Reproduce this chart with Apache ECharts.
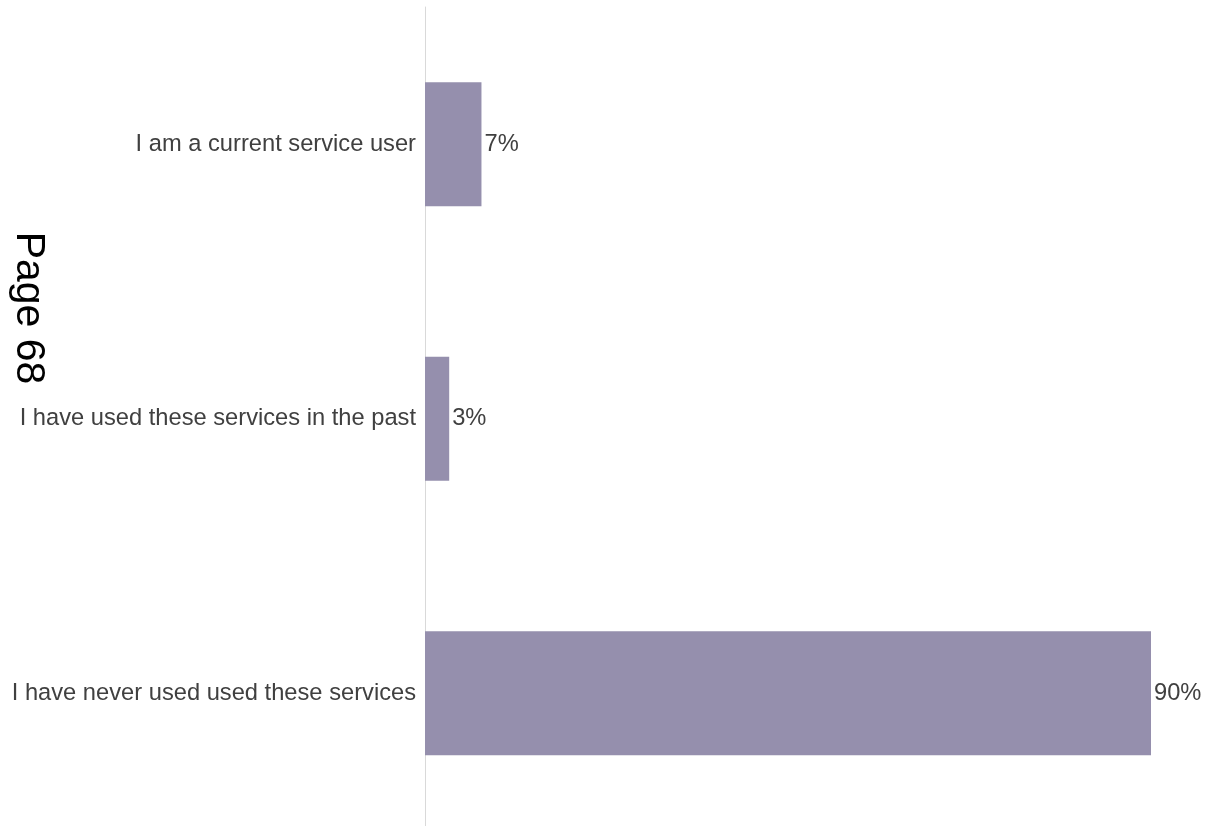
<!DOCTYPE html>
<html>
<head>
<meta charset="utf-8">
<title>Service use</title>
<script src="https://cdn.jsdelivr.net/npm/echarts@6/dist/echarts.min.js"></script>
<style>
  html, body { margin: 0; padding: 0; background: #ffffff; }
  #chart { width: 1205px; height: 826px; }
</style>
</head>
<body>
<div id="chart"></div>
<script>
// Survey answers, listed top to bottom
const categories = [
  'I am a current service user',
  'I have used these services in the past',
  'I have never used used these services'
];
// Share of respondents, in percent
const shares = [7, 3, 90];
const pageLabel = 'Page 68';

const chart = echarts.init(document.getElementById('chart'), null, { renderer: 'canvas' });

chart.setOption({
  backgroundColor: '#ffffff',
  animation: false,
  textStyle: { fontFamily: 'Liberation Sans, Arial, sans-serif' },
  grid: {
    left: 425, right: 54, top: 7, height: 823.5,
    containLabel: false,
    outerBoundsMode: 'none'
  },
  xAxis: {
    type: 'value',
    min: 0,
    max: 90,
    show: false,
    splitLine: { show: false }
  },
  yAxis: {
    type: 'category',
    data: categories,
    inverse: true,
    axisLine: { show: true, lineStyle: { color: '#d9d9d9', width: 1 } },
    axisTick: { show: false },
    axisLabel: {
      color: '#404040',
      fontSize: 23.7,
      margin: 9,
      fontFamily: 'Liberation Sans, Arial, sans-serif'
    },
    splitLine: { show: false }
  },
  series: [{
    type: 'bar',
    data: shares,
    barCategoryGap: '54.8%',
    itemStyle: { color: '#958fad' },
    label: {
      show: true,
      position: 'right',
      distance: 3,
      formatter: '{c}%',
      color: '#404040',
      fontSize: 23.7,
      fontFamily: 'Liberation Sans, Arial, sans-serif'
    }
  }],
  graphic: [{
    type: 'text',
    x: 28,
    y: 308,
    rotation: -Math.PI / 2,
    style: {
      text: pageLabel,
      fill: '#000000',
      font: '41px "Liberation Sans", Arial, sans-serif',
      align: 'center',
      verticalAlign: 'middle'
    }
  }]
});
</script>
</body>
</html>
